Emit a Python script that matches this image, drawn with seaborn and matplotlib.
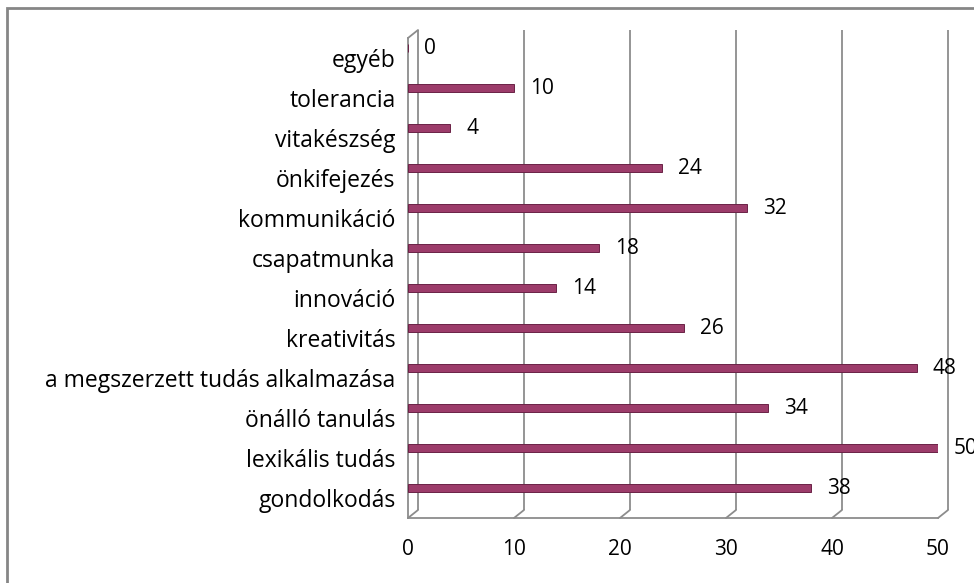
import matplotlib.pyplot as plt
import matplotlib.transforms as mtransforms
from matplotlib.patches import Rectangle
import seaborn as sns

# data, top to bottom as in the chart
categories = [
    "egyéb", "tolerancia", "vitakészség", "önkifejezés", "kommunikáció",
    "csapatmunka", "innováció", "kreativitás",
    "a megszerzett tudás alkalmazása", "önálló tanulás",
    "lexikális tudás", "gondolkodás",
]
values = [0, 10, 4, 24, 32, 18, 14, 26, 48, 34, 50, 38]
x_ticks = [0, 10, 20, 30, 40, 50]

bar_color = "#9C3C6A"
grid_color = "#8C8C8C"
font = ["Open Sans", "DejaVu Sans"]

sns.set_style("white")
plt.rcParams["font.family"] = font
plt.rcParams["text.color"] = "black"
plt.rcParams["xtick.color"] = "black"
plt.rcParams["ytick.color"] = "black"

W, H = 974, 583
fig = plt.figure(figsize=(W / 100, H / 100), dpi=100)
ax = fig.add_axes([408 / W, (H - 518) / H, 530 / W, 480 / H])

sns.barplot(x=values, y=categories, orient="h", color=bar_color, saturation=1,
            width=0.21, edgecolor="#6A2246", linewidth=0.7, ax=ax, zorder=3)

# bars sit a bit deeper in the 3d box: shift them up
shift = mtransforms.ScaledTranslation(0, 10 / 100, fig.dpi_scale_trans)
for p in ax.patches:
    p.set_transform(p.get_data_transform() + shift)

ax.set_xlim(0, 50)
ax.set_ylim(len(categories) - 0.5, -0.5)
ax.set_xlabel("")
ax.set_ylabel("")

# back wall gridlines
back = mtransforms.ScaledTranslation(10 / 100, 8 / 100, fig.dpi_scale_trans)
ax.vlines(x_ticks, len(categories) - 0.5, -0.5, color=grid_color, lw=1.3,
          transform=ax.transData + back, clip_on=False, zorder=1)
for t in x_ticks:
    ax.annotate("", xy=(t, len(categories) - 0.5), xytext=(10, 8),
                textcoords="offset pixels",
                arrowprops=dict(arrowstyle="-", color=grid_color, lw=1.3,
                                shrinkA=0, shrinkB=0), annotation_clip=False)
ax.annotate("", xy=(0, -0.5), xytext=(10, 8), textcoords="offset pixels",
            arrowprops=dict(arrowstyle="-", color=grid_color, lw=1.3,
                            shrinkA=0, shrinkB=0), annotation_clip=False)

# value labels
for i, v in enumerate(values):
    ax.annotate(str(v), xy=(v, i), xytext=(16, 9), textcoords="offset pixels",
                ha="left", va="center", fontsize=15, color="black",
                annotation_clip=False)

# axes styling
for side in ["top", "right"]:
    ax.spines[side].set_visible(False)
for side in ["left", "bottom"]:
    ax.spines[side].set_color(grid_color)
    ax.spines[side].set_linewidth(1.3)

ax.set_xticks(x_ticks)
ax.tick_params(axis="x", length=4, width=1.3, color=grid_color, pad=11,
               labelsize=15, labelcolor="black")
ax.set_yticks(range(len(categories)))
ax.set_yticklabels(categories)
ax.set_yticks([i - 0.5 for i in range(len(categories) + 1)], minor=True)
ax.tick_params(axis="y", which="major", length=0, pad=9, labelsize=16.5,
               labelcolor="black")
ax.tick_params(axis="y", which="minor", length=6, width=1.3, color=grid_color)

# outer chart border
fig.add_artist(Rectangle((7 / W, -0.1), 1.2, 1.1 - 8 / H, transform=fig.transFigure,
                         fill=False, edgecolor="#868686", lw=2))

fig.savefig("out.png", dpi=100)
